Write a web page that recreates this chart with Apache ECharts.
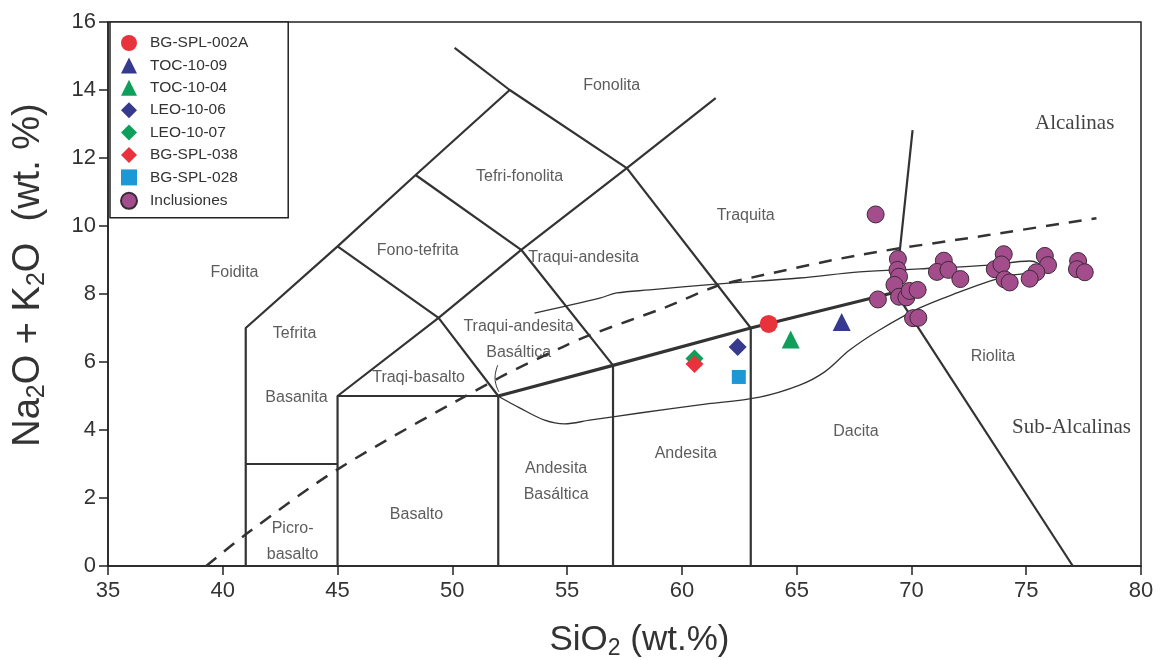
<!DOCTYPE html>
<html>
<head>
<meta charset="utf-8">
<script src="https://cdn.jsdelivr.net/npm/echarts@6/dist/echarts.min.js"></script>
<style>
html,body{margin:0;padding:0;background:#fff;}
#c{width:1164px;height:660px;}
</style>
</head>
<body>
<div id="c"></div>
<script>
// ---- Axis ticks ----
const xTicks = [35, 40, 45, 50, 55, 60, 65, 70, 75, 80];
const yTicks = [0, 2, 4, 6, 8, 10, 12, 14, 16];

// ---- Sample series (SiO2, Na2O+K2O) ----
const bgSpl002A = [[63.78, 7.12]];
const toc1009 = [[66.96, 7.18]];
const toc1004 = [[64.74, 6.66]];
const leo1006 = [[62.43, 6.44]];
const leo1007 = [[60.55, 6.10]];
const bgSpl038 = [[60.55, 5.94]];
const bgSpl028 = [[62.48, 5.56]];
const inclusiones = [
  [68.44, 10.34], [69.41, 9.03], [69.39, 8.71], [69.46, 8.51], [69.26, 8.27],
  [68.54, 7.84], [69.46, 7.92], [69.78, 7.90], [69.92, 8.09], [70.27, 8.12],
  [70.07, 7.29], [70.30, 7.30], [71.41, 8.98], [71.11, 8.65], [71.61, 8.71],
  [72.13, 8.44], [74.02, 9.17], [73.63, 8.73], [73.92, 8.87], [74.06, 8.43],
  [74.28, 8.34], [75.81, 9.12], [75.95, 8.85], [75.44, 8.64], [75.15, 8.45],
  [77.26, 8.97], [77.21, 8.73], [77.55, 8.64]
];

// ---- TAS field boundaries ----
const tasLines = [
  [[41, 0], [41, 7], [45, 9.4], [48.4, 11.5], [52.5, 14], [57.6, 11.7], [63, 7]],
  [[41, 3], [45, 3]],
  [[45, 0], [45, 5], [49.4, 7.3], [53, 9.3], [57, 5.9], [57, 0]],
  [[45, 5], [52, 5], [52, 0]],
  [[52, 5], [49.4, 7.3], [45, 9.4]],
  [[53, 9.3], [48.4, 11.5]],
  [[57.6, 11.7], [53, 9.3]],
  [[52.5, 14], [50.1, 15.24]],
  [[57.6, 11.7], [61.47, 13.76]],
  [[63, 7], [63, 0]],
  [[70.05, 12.82], [69.3, 8.05], [77.03, 0]]
];
const boldLine = [[52, 5], [57, 5.9], [63, 7], [69.3, 8.05]];
const alkalineDivide = [
  [39.28, 0], [41.08, 0.97], [45.09, 2.88], [52.02, 5.53], [54.8, 6.44],
  [55.98, 6.79], [59.33, 7.62], [61.46, 8.22], [62.95, 8.47], [67.75, 9.15],
  [73.41, 9.74], [78.06, 10.23]
];
const fieldOutline = [
  [53.58, 7.44], [56.42, 7.88], [57.16, 8.03], [58.60, 8.12], [61.47, 8.29],
  [65.13, 8.47], [67.75, 8.65], [70.36, 8.74], [73.41, 8.85], [75.15, 8.97],
  [75.50, 8.91], [75.67, 8.76], [75.15, 8.62], [74.41, 8.56], [73.41, 8.38],
  [72.10, 8.06], [70.36, 7.59], [68.61, 6.94], [67.31, 6.35], [66.22, 5.71],
  [65.13, 5.32], [63.39, 4.97], [60.77, 4.74], [58.16, 4.50], [55.98, 4.29],
  [54.89, 4.18], [54.02, 4.29], [52.93, 4.65], [52.06, 4.97]
];
const leader = [[51.98, 5.91], [51.86, 5.53], [52.03, 5.12]];

// ---- Field names ----
const fieldLabels = [
  ['Foidita', 40.51, 8.62], ['Tefrita', 43.13, 6.85], ['Basanita', 43.21, 4.94],
  ['Picro-\nbasalto', 43.04, 0.71], ['Basalto', 48.44, 1.5], ['Traqi-basalto', 48.53, 5.53],
  ['Traqui-andesita\nBasáltica', 52.89, 6.66], ['Fono-tefrita', 48.49, 9.29],
  ['Tefri-fonolita', 52.93, 11.44], ['Fonolita', 56.94, 14.12], ['Traquita', 62.78, 10.30],
  ['Traqui-andesita', 55.72, 9.06], ['Andesita\nBasáltica', 54.52, 2.48],
  ['Andesita', 60.17, 3.32], ['Dacita', 67.58, 3.94], ['Riolita', 73.55, 6.16]
];
const seriesLabels = [['Alcalinas', 77.11, 13.02], ['Sub-Alcalinas', 76.97, 4.08]];

const FONT = "'Liberation Sans', Arial, sans-serif";
const NARROW = "'Liberation Sans Narrow', 'Liberation Sans', Arial, sans-serif";
const LC = '#333';

const series = [];
tasLines.forEach(function (d) {
  series.push({type: 'line', data: d, symbol: 'none', silent: true, z: 2,
    lineStyle: {color: LC, width: 2.2}});
});
series.push({type: 'line', data: boldLine, symbol: 'none', silent: true, z: 2,
  lineStyle: {color: LC, width: 3.2}});
series.push({type: 'line', data: alkalineDivide, symbol: 'none', silent: true, z: 2, smooth: 0.3,
  lineStyle: {color: LC, width: 2.5, type: [13, 10]}});
series.push({type: 'line', data: fieldOutline, symbol: 'none', silent: true, z: 2, smooth: 0.35,
  lineStyle: {color: LC, width: 1.3}});
series.push({type: 'line', data: leader, symbol: 'none', silent: true, z: 2, smooth: 0.5,
  lineStyle: {color: LC, width: 1}});
series.push({type: 'scatter', silent: true, z: 3, symbolSize: 0,
  data: fieldLabels.map(function (l) { return {name: l[0], value: [l[1], l[2]]}; }),
  label: {show: true, position: 'inside', formatter: '{b}', color: '#333',
    fontFamily: FONT, fontSize: 16, lineHeight: 26, align: 'center', verticalAlign: 'middle'}});
series.push({type: 'scatter', silent: true, z: 3, symbolSize: 0,
  data: seriesLabels.map(function (l) { return {name: l[0], value: [l[1], l[2]]}; }),
  label: {show: true, position: 'inside', formatter: '{b}', color: '#111',
    fontFamily: "'Liberation Serif', 'Times New Roman', serif", fontSize: 21}});

function pts(name, data, symbol, size, color, border) {
  series.push({name: name, type: 'scatter', data: data, symbol: symbol, symbolSize: size, z: 5,
    itemStyle: {color: color, borderColor: border || color, borderWidth: border ? 1 : 0, opacity: 1}});
}
pts('BG-SPL-002A', bgSpl002A, 'circle', 18, '#e8333d');
pts('TOC-10-09', toc1009, 'triangle', 18, '#353a8e');
pts('TOC-10-04', toc1004, 'triangle', 18, '#0ea05b');
pts('LEO-10-06', leo1006, 'diamond', 18, '#353a8e');
pts('LEO-10-07', leo1007, 'diamond', 18, '#0ea05b');
pts('BG-SPL-038', bgSpl038, 'diamond', 18, '#e8333d');
pts('BG-SPL-028', bgSpl028, 'rect', 14, '#1d98d6');
pts('Inclusiones', inclusiones, 'circle', 17, '#a44d8c', '#3a2a35');

const chart = echarts.init(document.getElementById('c'), null, {renderer: 'canvas'});
chart.setOption({
  backgroundColor: '#fff',
  animation: false,
  grid: {left: 108, right: 23, top: 22, bottom: 94, show: true, borderColor: '#222', borderWidth: 1.5,
    containLabel: false, outerBoundsMode: 'none'},
  legend: {
    data: ['BG-SPL-002A', 'TOC-10-09', 'TOC-10-04', 'LEO-10-06', 'LEO-10-07', 'BG-SPL-038', 'BG-SPL-028', 'Inclusiones'],
    orient: 'vertical', left: 110, top: 22, itemGap: 6.4, itemWidth: 16, itemHeight: 16,
    padding: [13, 40, 8, 10], borderColor: '#222', borderWidth: 1.5, backgroundColor: '#fff',
    textStyle: {fontFamily: FONT, fontSize: 15.5, color: '#333', padding: [0, 0, 0, 8]}
  },
  xAxis: {
    type: 'value', min: xTicks[0], max: xTicks[xTicks.length - 1], interval: 5,
    splitLine: {show: false},
    axisLine: {lineStyle: {color: '#222', width: 1.5}},
    axisTick: {inside: false, length: 9, lineStyle: {color: '#222', width: 1.5}},
    axisLabel: {fontFamily: NARROW, fontSize: 22, color: '#333', margin: 14},
    name: '{a|SiO}{s|2}{a| (wt.%)}', nameLocation: 'middle', nameGap: 54,
    nameTextStyle: {padding: [0, 0, 0, 30], rich: {
      a: {fontFamily: FONT, fontSize: 35, color: '#333', lineHeight: 40},
      s: {fontFamily: FONT, fontSize: 23, color: '#333', verticalAlign: 'bottom', lineHeight: 22}
    }}
  },
  yAxis: {
    type: 'value', min: yTicks[0], max: yTicks[yTicks.length - 1], interval: 2,
    splitLine: {show: false},
    axisLine: {lineStyle: {color: '#222', width: 1.5}},
    axisTick: {inside: false, length: 9, lineStyle: {color: '#222', width: 1.5}},
    axisLabel: {fontFamily: NARROW, fontSize: 22, color: '#333', margin: 12},
    name: '{a|Na}{s|2}{a|O + K}{s|2}{a|O  (wt. %)}', nameLocation: 'middle', nameGap: 58,
    nameTextStyle: {padding: [0, 0, 0, 38], rich: {
      a: {fontFamily: FONT, fontSize: 38, color: '#333', lineHeight: 42},
      s: {fontFamily: FONT, fontSize: 25, color: '#333', verticalAlign: 'bottom', lineHeight: 22}
    }}
  },
  series: series
});
</script>
</body>
</html>
